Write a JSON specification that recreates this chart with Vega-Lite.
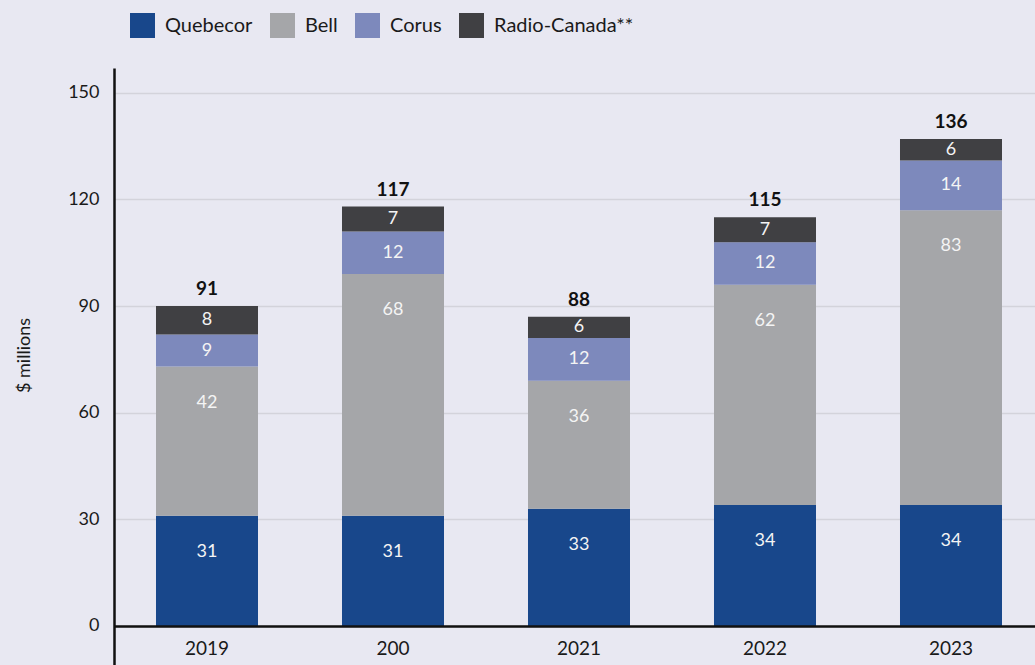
{
  "$schema": "https://vega.github.io/schema/vega-lite/v6.json",
  "width": 921,
  "height": 597,
  "autosize": {"type": "none"},
  "padding": {"left": 114, "top": 68, "right": 0, "bottom": 0},
  "background": "#e8e8f2",
  "config": {
    "font": "Lato",
    "view": {"stroke": null},
    "axis": {"labelColor": "#1a1a1a", "titleColor": "#1a1a1a"}
  },
  "datasets": {
    "segments": [
      {"year": "2019", "company": "Quebecor", "value": 31},
      {"year": "2019", "company": "Bell", "value": 42},
      {"year": "2019", "company": "Corus", "value": 9},
      {"year": "2019", "company": "Radio-Canada**", "value": 8},
      {"year": "200", "company": "Quebecor", "value": 31},
      {"year": "200", "company": "Bell", "value": 68},
      {"year": "200", "company": "Corus", "value": 12},
      {"year": "200", "company": "Radio-Canada**", "value": 7},
      {"year": "2021", "company": "Quebecor", "value": 33},
      {"year": "2021", "company": "Bell", "value": 36},
      {"year": "2021", "company": "Corus", "value": 12},
      {"year": "2021", "company": "Radio-Canada**", "value": 6},
      {"year": "2022", "company": "Quebecor", "value": 34},
      {"year": "2022", "company": "Bell", "value": 62},
      {"year": "2022", "company": "Corus", "value": 12},
      {"year": "2022", "company": "Radio-Canada**", "value": 7},
      {"year": "2023", "company": "Quebecor", "value": 34},
      {"year": "2023", "company": "Bell", "value": 83},
      {"year": "2023", "company": "Corus", "value": 14},
      {"year": "2023", "company": "Radio-Canada**", "value": 6}
    ],
    "totals": [
      {"year": "2019", "total": 91},
      {"year": "200", "total": 117},
      {"year": "2021", "total": 88},
      {"year": "2022", "total": 115},
      {"year": "2023", "total": 136}
    ]
  },
  "data": {"name": "segments"},
  "transform": [
    {"stack": "value", "groupby": ["year"], "as": ["y0", "y1"]}
  ],
  "encoding": {
    "x": {
      "field": "year",
      "type": "nominal",
      "scale": {
        "domain": ["2019", "200", "2021", "2022", "2023"],
        "range": [0, 930],
        "paddingInner": 0.4516,
        "paddingOuter": 0.2258
      },
      "axis": {
        "title": null,
        "labelAngle": 0,
        "ticks": false,
        "offset": -39,
        "zindex": 1,
        "domainColor": "#111111",
        "domainWidth": 2.5,
        "labelFontSize": 19,
        "labelPadding": 13
      }
    }
  },
  "layer": [
    {
      "mark": {"type": "bar"},
      "encoding": {
        "y": {
          "field": "y0",
          "type": "quantitative",
          "scale": {"domain": [-11, 157], "nice": false, "zero": false},
          "axis": {
            "values": [0, 30, 60, 90, 120, 150],
            "title": "$ millions",
            "titleFontSize": 18,
            "titleFontWeight": "normal",
            "titlePadding": 34,
            "titleY": 287,
            "ticks": false,
            "labelFontSize": 18,
            "labelPadding": 15,
            "domainColor": "#111111",
            "domainWidth": 2.5,
            "gridColor": "#d3d3db",
            "gridWidth": 1.5
          }
        },
        "y2": {"field": "y1"},
        "color": {
          "field": "company",
          "type": "nominal",
          "scale": {
            "domain": ["Quebecor", "Bell", "Corus", "Radio-Canada**"],
            "range": ["#18478b", "#a5a6a9", "#7d89bc", "#404043"]
          },
          "legend": {
            "title": null,
            "orient": "none",
            "direction": "horizontal",
            "legendX": 16,
            "legendY": -55,
            "padding": 0,
            "symbolType": "square",
            "symbolSize": 625,
            "symbolStrokeWidth": 0,
            "symbolOpacity": 1,
            "labelFontSize": 20,
            "labelColor": "#1a1a1a",
            "labelOffset": 10,
            "columnPadding": 17
          }
        }
      }
    },
    {
      "transform": [{"filter": {"field": "company", "oneOf": ["Quebecor", "Bell"]}}],
      "mark": {"type": "text", "color": "#f4f4f4", "fontSize": 18, "dy": 36, "baseline": "middle"},
      "encoding": {
        "y": {"field": "y1", "type": "quantitative"},
        "text": {"field": "value", "type": "quantitative"}
      }
    },
    {
      "transform": [
        {"filter": {"field": "company", "oneOf": ["Corus", "Radio-Canada**"]}},
        {"fold": ["y0", "y1"], "as": ["edgeKey", "edge"]},
        {"aggregate": [{"op": "mean", "field": "edge", "as": "mid"}], "groupby": ["year", "company", "value"]}
      ],
      "mark": {"type": "text", "color": "#f4f4f4", "fontSize": 18, "baseline": "middle"},
      "encoding": {
        "y": {"field": "mid", "type": "quantitative"},
        "text": {"field": "value", "type": "quantitative"}
      }
    },
    {
      "transform": [
        {"aggregate": [{"op": "sum", "field": "value", "as": "top"}], "groupby": ["year"]},
        {"lookup": "year", "from": {"data": {"name": "totals"}, "key": "year", "fields": ["total"]}}
      ],
      "mark": {"type": "text", "color": "#111111", "fontSize": 19, "fontWeight": "bold", "dy": -17, "baseline": "middle"},
      "encoding": {
        "y": {"field": "top", "type": "quantitative"},
        "text": {"field": "total", "type": "quantitative"}
      }
    }
  ]
}
